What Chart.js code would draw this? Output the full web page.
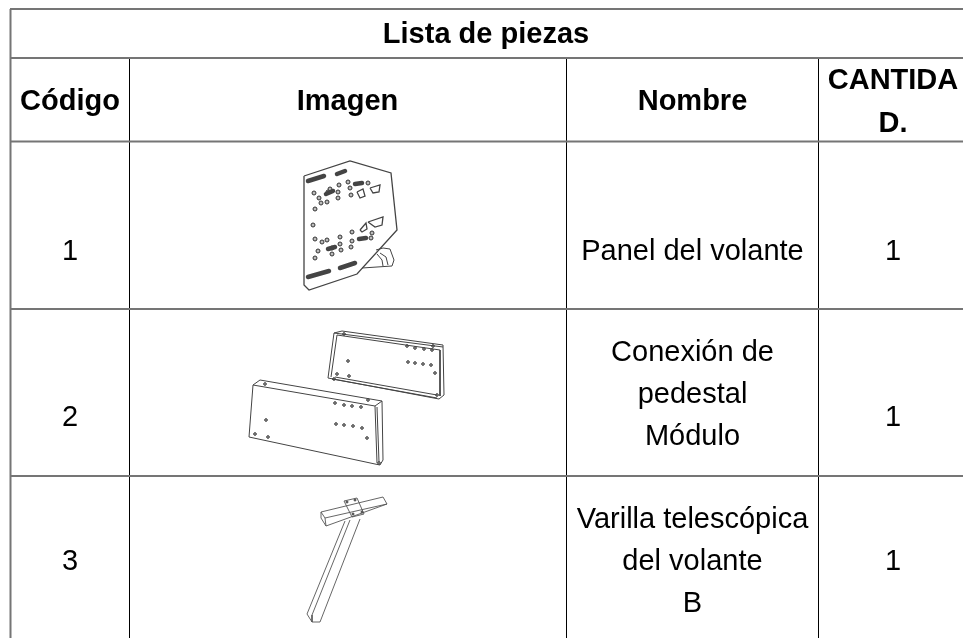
<!DOCTYPE html>
<html>
<head>
<meta charset="utf-8">
<title>Lista de piezas</title>
<script src="https://cdn.jsdelivr.net/npm/chart.js@4/dist/chart.umd.min.js"></script>
<style>
    html, body { margin: 0; padding: 0; background: #fff; }
    canvas { display: block; }
</style>
</head>
<body>
<canvas id="partsChart" width="963" height="638"></canvas>
<script>
// Table contents
const tableTitle = 'Lista de piezas';
const headerLabels = ['Código', 'Imagen', 'Nombre', ['CANTIDA', 'D.']];
const partCodes = ['1', '2', '3'];
const partNames = [
    ['Panel del volante'],
    ['Conexión de', 'pedestal', 'Módulo'],
    ['Varilla telescópica', 'del volante', 'B']
];
const partQuantities = ['1', '1', '1'];

// Table rules
const columnEdges = [129.5, 566.5, 818.5];
const rowEdges = [9, 58, 141.5, 309, 476];
const columnCenters = [70, 692.5, 893];
const rowCenters = [252, 418, 562];
const nameCenters = [252, 395, 562];

// Part 1: steering wheel plate
const plateOutline = [[[304, 176], [350, 161], [391, 173], [397, 230], [357, 274], [309, 290], [304, 285], [304, 176]]];
const plateFoot = [
    [[376, 250], [383, 248], [390, 249], [394, 260], [392, 266], [362, 268]],
    [[377, 254], [382, 260], [383, 266]],
    [[380, 253], [386, 257], [388, 265]]
];
const plateCutouts = [
    [[357, 192], [363, 189], [365, 196], [360, 198], [357, 192]],
    [[370, 188], [380, 185], [379, 192], [373, 193], [370, 188]],
    [[360, 230], [366, 223], [367, 229], [362, 232], [360, 230]],
    [[368, 222], [383, 217], [382, 225], [375, 227], [368, 222]]
];
const plateSlots = [
    [[308, 277], [329, 271]],
    [[340, 268], [355, 263]],
    [[308, 181], [324, 176]],
    [[337, 174], [345, 171]],
    [[355, 184], [362, 183]],
    [[359, 239], [366, 238]],
    [[326, 194], [333, 191]],
    [[328, 249], [335, 247]]
];
const plateHoles = [
    [314, 193], [319, 198], [330, 189], [328, 192], [339, 185], [338, 192], [348, 182], [350, 188],
    [338, 198], [351, 195], [321, 203], [327, 202], [315, 209], [313, 225], [315, 239], [322, 242],
    [327, 240], [340, 237], [352, 232], [340, 244], [332, 248], [332, 254], [318, 251], [315, 258],
    [352, 241], [351, 247], [341, 250], [368, 183], [372, 233], [371, 238]
];

// Part 2: pedestal module
const moduleBack = [
    [[334, 333], [342, 331], [443, 345], [444, 395], [439, 399], [328, 378], [334, 333]],
    [[337, 335], [331, 377]],
    [[337, 335], [440, 350], [440, 396]],
    [[335, 377], [437, 395]],
    [[332, 379], [437, 398]],
    [[334, 333], [443, 347]]
];
const moduleFront = [
    [[253, 385], [260, 380], [382, 401], [383, 460], [380, 465], [375, 464], [249, 437], [253, 385]],
    [[253, 385], [375, 406], [382, 401]],
    [[375, 406], [377, 463]],
    [[377, 407], [379, 462]]
];
const moduleHoles = [
    [407, 346], [415, 348], [424, 349], [432, 350], [408, 362], [415, 363], [423, 364], [431, 365],
    [435, 373], [348, 361], [337, 374], [349, 376], [344, 334], [433, 346], [437, 395], [334, 379],
    [335, 403], [344, 405], [352, 406], [361, 407], [336, 424], [344, 425], [353, 426], [362, 428],
    [367, 438], [266, 420], [255, 434], [268, 437], [265, 384], [368, 400], [379, 463]
];

// Part 3: telescopic rod
const rodLines = [
    [[321, 512], [383, 497], [387, 504], [326, 526], [321, 518], [321, 512]],
    [[321, 512], [325, 518], [387, 504]],
    [[325, 518], [326, 526]],
    [[345, 521], [307, 614], [312, 622], [320, 622], [360, 519]],
    [[350, 520], [312, 615], [312, 622]],
    [[344, 501], [357, 498], [364, 514], [352, 517], [344, 501]]
];
const rodHoles = [[347, 502], [355, 500], [353, 514], [362, 512]];

const toPoints = (pairs) => pairs.map(([x, y]) => ({ x, y }));

// polylines share one dataset, NaN breaks the line between them
function joinLines(lines) {
    const points = [];
    lines.forEach((line) => {
        points.push(...toPoints(line));
        points.push({ x: NaN, y: NaN });
    });
    return points;
}

function lineSet(lines, color, width, cap) {
    return {
        data: joinLines(lines),
        showLine: true,
        spanGaps: false,
        borderColor: color,
        borderWidth: width,
        borderCapStyle: cap || 'butt',
        pointRadius: 0
    };
}

function holeSet(pairs, radius) {
    return {
        data: toPoints(pairs),
        showLine: false,
        pointRadius: radius,
        pointBackgroundColor: '#bbbbbb',
        pointBorderColor: '#333333',
        pointBorderWidth: 1
    };
}

const horizontalRules = rowEdges.map((y) => [[10, y], [963, y]]);
const verticalRules = columnEdges.map((x) => [[x, 58], [x, 638]]);
const leftRule = [[[10.5, 9], [10.5, 638]]];

const tableText = {
    id: 'tableText',
    afterDatasetsDraw(chart) {
        const { ctx, scales } = chart;
        const put = (text, x, y, bold) => {
            ctx.font = (bold ? 'bold ' : '') + '29px "Liberation Sans"';
            ctx.fillText(text, scales.x.getPixelForValue(x), scales.y.getPixelForValue(y));
        };
        ctx.save();
        ctx.fillStyle = '#000000';
        ctx.textAlign = 'center';
        ctx.textBaseline = 'middle';
        put(tableTitle, 486, 35, true);
        put(headerLabels[0], columnCenters[0], 102, true);
        put(headerLabels[1], 347.5, 102, true);
        put(headerLabels[2], columnCenters[1], 102, true);
        headerLabels[3].forEach((line, i) => put(line, columnCenters[2], 81 + i * 42.5, true));
        partCodes.forEach((code, i) => put(code, columnCenters[0], rowCenters[i]));
        partQuantities.forEach((qty, i) => put(qty, columnCenters[2], rowCenters[i]));
        partNames.forEach((lines, i) => {
            const top = nameCenters[i] - (lines.length - 1) * 21;
            lines.forEach((line, j) => put(line, columnCenters[1], top + j * 42));
        });
        ctx.restore();
    }
};

new Chart(document.getElementById('partsChart').getContext('2d'), {
    type: 'scatter',
    data: {
        datasets: [
            lineSet(horizontalRules, '#757575', 2),
            lineSet(leftRule, '#757575', 2),
            lineSet(verticalRules, '#000000', 1),
            lineSet(plateFoot, '#444444', 1),
            lineSet(plateOutline, '#444444', 1.3),
            lineSet(plateCutouts, '#444444', 1.3),
            lineSet(plateSlots, '#444444', 4.5, 'round'),
            lineSet(plateSlots, '#ffffff', 2, 'round'),
            holeSet(plateHoles, 2),
            lineSet(moduleBack, '#444444', 1),
            lineSet(moduleFront, '#444444', 1),
            holeSet(moduleHoles, 1.3),
            lineSet(rodLines, '#555555', 0.9),
            holeSet(rodHoles, 1)
        ]
    },
    options: {
        responsive: false,
        animation: false,
        events: [],
        layout: { padding: 0, autoPadding: false },
        plugins: {
            legend: { display: false },
            title: { display: false },
            tooltip: { enabled: false }
        },
        scales: {
            x: { type: 'linear', display: false, min: 0, max: 963 },
            y: { type: 'linear', display: false, min: 0, max: 638, reverse: true }
        }
    },
    plugins: [tableText]
});
</script>
</body>
</html>
